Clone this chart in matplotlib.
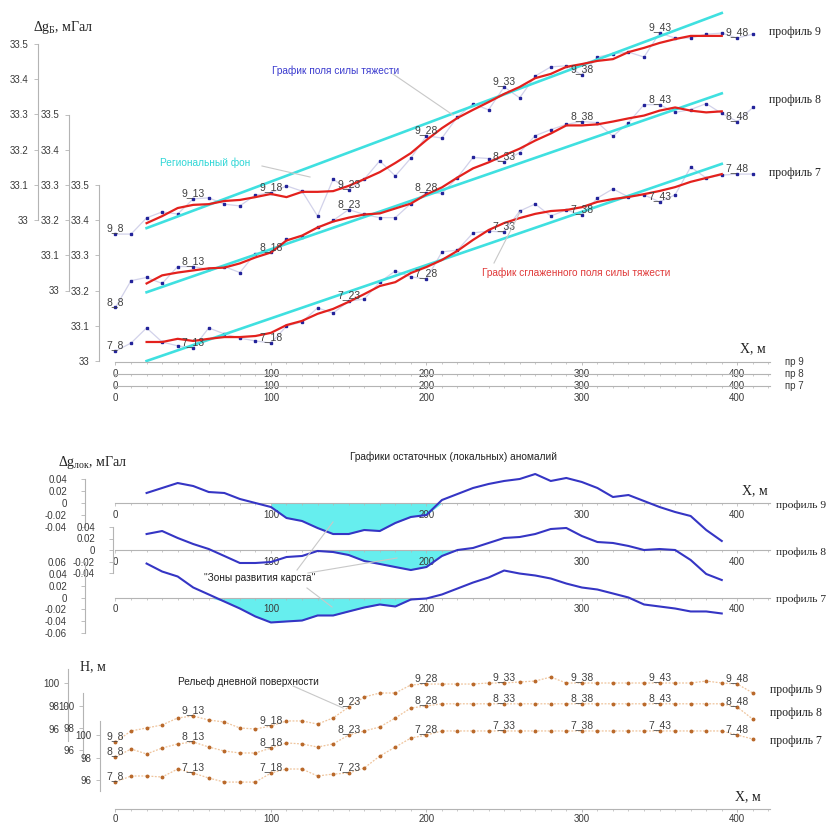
import numpy as np
import matplotlib
matplotlib.use("Agg")
import matplotlib.pyplot as plt
from matplotlib.lines import Line2D

plt.rcParams['font.family'] = ['Liberation Sans', 'DejaVu Sans']
plt.rcParams['mathtext.fontset'] = 'custom'
plt.rcParams['mathtext.rm'] = 'Liberation Serif'
plt.rcParams['mathtext.it'] = 'Liberation Serif:italic'

# ---------------- data ----------------
stations = np.arange(8, 50)                 # picket numbers 8..49
dist = (stations - 8) * 10.0                # distance along profile, m
dist_s = dist[2:40]                         # 20..390 m, smoothed / residual curves
label_stations = [8, 13, 18, 23, 28, 33, 38, 43, 48]

# observed gravity, mGal
g9 = [32.960, 32.960, 33.006, 33.023, 33.017, 33.060, 33.063, 33.045, 33.040, 33.071,
      33.077, 33.097, 33.082, 33.011, 33.116, 33.085, 33.116, 33.168, 33.125, 33.176,
      33.239, 33.233, 33.293, 33.330, 33.313, 33.378, 33.347, 33.409, 33.435, 33.438,
      33.412, 33.463, 33.472, 33.477, 33.463, 33.531, 33.517, 33.517, 33.528, 33.531,
      33.517, 33.528]
g8 = [32.952, 33.028, 33.037, 33.020, 33.068, 33.068, 33.060, 33.068, 33.051, 33.105,
      33.108, 33.145, 33.153, 33.179, 33.199, 33.230, 33.216, 33.207, 33.207, 33.247,
      33.278, 33.276, 33.321, 33.378, 33.375, 33.366, 33.392, 33.440, 33.457, 33.472,
      33.480, 33.477, 33.438, 33.477, 33.528, 33.528, 33.506, 33.514, 33.531, 33.503,
      33.480, 33.520]
g7 = [33.028, 33.051, 33.094, 33.054, 33.043, 33.037, 33.094, 33.077, 33.065, 33.057,
      33.051, 33.099, 33.111, 33.151, 33.136, 33.170, 33.176, 33.224, 33.256, 33.239,
      33.233, 33.310, 33.315, 33.364, 33.369, 33.366, 33.426, 33.446, 33.412, 33.429,
      33.415, 33.463, 33.489, 33.466, 33.472, 33.452, 33.472, 33.551, 33.520, 33.528,
      33.531, 33.531]

# smoothed gravity, mGal (20..390 m)
s9 = [32.991, 33.011, 33.034, 33.043, 33.045, 33.054, 33.057, 33.065, 33.074, 33.065,
      33.080, 33.080, 33.082, 33.097, 33.116, 33.136, 33.162, 33.190, 33.227, 33.261,
      33.290, 33.313, 33.335, 33.358, 33.378, 33.403, 33.415, 33.435, 33.443, 33.452,
      33.457, 33.477, 33.489, 33.503, 33.514, 33.523, 33.523, 33.523]
s8 = [33.020, 33.043, 33.051, 33.057, 33.063, 33.065, 33.077, 33.094, 33.108, 33.142,
      33.156, 33.179, 33.196, 33.207, 33.216, 33.219, 33.233, 33.247, 33.273, 33.293,
      33.321, 33.347, 33.364, 33.384, 33.403, 33.426, 33.446, 33.469, 33.469, 33.472,
      33.480, 33.489, 33.497, 33.511, 33.520, 33.511, 33.506, 33.509]
s7 = [33.054, 33.054, 33.063, 33.057, 33.063, 33.068, 33.068, 33.071, 33.080, 33.102,
      33.114, 33.134, 33.148, 33.168, 33.190, 33.213, 33.224, 33.250, 33.267, 33.287,
      33.313, 33.344, 33.372, 33.392, 33.406, 33.418, 33.426, 33.429, 33.437, 33.452,
      33.460, 33.466, 33.474, 33.483, 33.494, 33.509, 33.520, 33.531]

# regional background (straight line end points)
reg_x = [20, 390]
reg9 = [32.977, 33.588]
reg8 = [32.995, 33.560]
reg7 = [33.000, 33.560]

# residual (local) anomalies, mGal (20..390 m)
r9 = [0.0167, 0.025, 0.0333, 0.0283, 0.0183, 0.0167, 0.0067, 0.0, -0.0067, -0.025,
      -0.03, -0.0417, -0.0517, -0.0517, -0.045, -0.0467, -0.0333, -0.0233, -0.02, 0.005,
      0.015, 0.025, 0.0317, 0.0367, 0.04, 0.0483, 0.0367, 0.0417, 0.035, 0.025,
      0.01, 0.0133, 0.0033, -0.0067, -0.015, -0.0217, -0.045, -0.0633]
r8 = [0.0278, 0.033, 0.0209, 0.0104, 0.0017, -0.0104, -0.0226, -0.0226, -0.0209, -0.0122,
      -0.0104, -0.0017, -0.0035, -0.0087, -0.0191, -0.0243, -0.0296, -0.0348, -0.0296, -0.0104,
      0.0, 0.0035, 0.0122, 0.0209, 0.0226, 0.0278, 0.0365, 0.0383, 0.0243, 0.0139,
      0.0122, 0.007, 0.0, 0.0017, 0.0, -0.0174, -0.0417, -0.0522]
r7 = [0.0574, 0.0439, 0.0355, 0.0169, 0.0051, -0.0068, -0.0186, -0.0321, -0.0422, -0.0405,
      -0.0389, -0.0304, -0.0304, -0.0236, -0.0169, -0.0118, -0.0152, -0.0034, -0.0017, 0.0051,
      0.0152, 0.0253, 0.0338, 0.0456, 0.0405, 0.0372, 0.0321, 0.0236, 0.0169, 0.0135,
      0.0068, 0.0, -0.0118, -0.0152, -0.0186, -0.0236, -0.0236, -0.027]
# karst zones (start, end of shaded interval), m
karst9 = (100, 210)
karst8 = (130, 220)
karst7 = (60, 200)

# surface relief, m
h9 = [94.87, 95.83, 96.09, 96.35, 96.96, 97.13, 96.78, 96.61, 96.09, 96.00,
      96.26, 96.70, 96.70, 96.43, 96.96, 97.91, 98.78, 99.13, 99.13, 99.83,
      99.91, 99.91, 99.91, 99.91, 100.0, 100.0, 100.09, 100.17, 100.52, 100.0,
      100.0, 100.0, 100.0, 100.0, 100.0, 100.0, 100.0, 100.0, 100.17, 100.0,
      99.91, 99.13]
h8 = [95.36, 96.09, 95.64, 96.18, 96.55, 96.73, 96.27, 95.91, 95.73, 95.73,
      96.18, 96.64, 96.55, 96.27, 96.55, 97.36, 97.73, 98.09, 98.91, 99.82,
      100.0, 100.2, 100.2, 100.2, 100.2, 100.2, 100.2, 100.2, 100.2, 100.2,
      100.2, 100.2, 100.2, 100.2, 100.2, 100.2, 100.2, 100.2, 100.2, 100.2,
      99.9, 98.8]
h7 = [95.82, 96.36, 96.36, 96.27, 96.98, 96.62, 96.18, 95.82, 95.82, 95.82,
      96.62, 96.98, 96.98, 96.36, 96.53, 96.62, 97.07, 98.13, 98.93, 99.73,
      100.0, 100.36, 100.36, 100.36, 100.36, 100.36, 100.36, 100.36, 100.36, 100.36,
      100.36, 100.36, 100.36, 100.36, 100.36, 100.36, 100.36, 100.36, 100.36, 100.36,
      100.0, 99.64]

g_ticks = [33.0, 33.1, 33.2, 33.3, 33.4, 33.5]
g_ticklabels = ['33', '33.1', '33.2', '33.3', '33.4', '33.5']
r_ticks4 = [-0.04, -0.02, 0.0, 0.02, 0.04]
r_ticklabels4 = ['-0.04', '-0.02', '0', '0.02', '0.04']
r_ticks6 = [-0.06, -0.04, -0.02, 0.0, 0.02, 0.04, 0.06]
r_ticklabels6 = ['-0.06', '-0.04', '-0.02', '0', '0.02', '0.04', '0.06']
h_ticks = [96, 98, 100]
h_ticklabels = ['96', '98', '100']
x_ticks = [0, 100, 200, 300, 400]
x_ticklabels = ['0', '100', '200', '300', '400']

# ---------------- layout helpers ----------------
W, H = 829, 825
X0 = 115.5          # left edge of the distance scale, px
PPM = 1.5545        # px per metre
XMAX = 421.0
AXW = XMAX * PPM

fig = plt.figure(figsize=(W / 100, H / 100), dpi=100)

SERIF = ['Liberation Serif', 'DejaVu Serif']
GRAY = '#b4b4b4'
TXT = '#3a3a3a'


def px_axes(y_top, y_bot):
    ax = fig.add_axes([X0 / W, 1 - y_bot / H, AXW / W, (y_bot - y_top) / H])
    ax.set_xlim(0, XMAX)
    ax.patch.set_visible(False)
    return ax


def ftext(x, y, s, **kw):
    kw.setdefault('va', 'center')
    return fig.text(x / W, 1 - y / H, s, **kw)


def fline(x1, y1, x2, y2, color='#c8c8c8', lw=0.8):
    fig.add_artist(Line2D([x1 / W, x2 / W], [1 - y1 / H, 1 - y2 / H],
                          transform=fig.transFigure, color=color, lw=lw))


def y_axis(ax, spine_px, ticks, labels, lim, pad=4):
    ax.set_ylim(*lim)
    for s in ['top', 'right', 'bottom']:
        ax.spines[s].set_visible(False)
    ax.spines['left'].set_position(('axes', (spine_px - X0) / AXW))
    ax.spines['left'].set_color(GRAY)
    ax.spines['left'].set_linewidth(0.8)
    ax.set_yticks(ticks)
    ax.set_yticklabels(labels)
    ax.tick_params(axis='y', length=3, width=0.6, color=GRAY, labelsize=7,
                   labelcolor=TXT, pad=pad)
    ax.set_xticks([])


def x_strip(y_line, pad=2.5):
    ax = px_axes(y_line - 2, y_line)
    ax.set_ylim(0, 1)
    for s in ['top', 'right', 'left']:
        ax.spines[s].set_visible(False)
    ax.spines['bottom'].set_color(GRAY)
    ax.spines['bottom'].set_linewidth(0.8)
    ax.set_yticks([])
    ax.set_xticks(x_ticks)
    ax.set_xticklabels(x_ticklabels)
    ax.set_xticks(np.arange(0, 421, 10), minor=True)
    ax.tick_params(axis='x', which='major', length=2.5, width=0.6, color=GRAY,
                   labelsize=7, labelcolor=TXT, pad=pad)
    ax.tick_params(axis='x', which='minor', length=1.5, width=0.5, color=GRAY)
    return ax


def station_labels(ax, prof, values):
    for st in label_stations:
        i = st - 8
        ax.annotate(f'{prof}_{st}', (dist[i], values[i]), xytext=(0, 0.5),
                    textcoords='offset points', ha='center', va='bottom',
                    fontsize=7.5, color='#404040', annotation_clip=False, zorder=6)


# ---------------- top panel: gravity ----------------
top_specs = [
    (9, g9, s9, reg9, 44.0, 220.0, 38),
    (8, g8, s8, reg8, 114.5, 290.5, 69),
    (7, g7, s7, reg7, 185.0, 361.0, 99),
]
for prof, g, s, reg, yt, yb, spx in top_specs:
    ax = px_axes(yt, yb)
    y_axis(ax, spx, g_ticks, g_ticklabels, (33.0, 33.5), pad=4)
    ax.plot(dist, g, color='#d2d2ea', lw=0.9, clip_on=False, zorder=2)
    ax.plot(dist, g, ls='none', marker='s', ms=1.9, color='#23239a', clip_on=False, zorder=3)
    ax.plot(reg_x, reg, color='#3fe0e0', lw=1.9, clip_on=False, zorder=4)
    ax.plot(dist_s, s, color='#e3211d', lw=1.6, clip_on=False, zorder=5)
    station_labels(ax, prof, g)

for yl, name in [(362, 'пр 9'), (374, 'пр 8'), (386, 'пр 7')]:
    x_strip(yl, pad=2.5)
    ftext(785, yl, name, fontsize=7, color=TXT)

ftext(33, 27, 'Δg$_{\\mathrm{Б}}$, мГал', family=SERIF, fontsize=10, color='#222')
ftext(740, 349, 'X, м', family=SERIF, fontsize=10, color='#222')
for y, name in [(32, 'профиль 9'), (100, 'профиль 8'), (173, 'профиль 7')]:
    ftext(769, y, name, family=SERIF, fontsize=8.5, color='#222')

ftext(272, 71, 'График поля силы тяжести', fontsize=7.3, color='#3b3bcf')
fline(393, 74, 453, 115)
ftext(160, 163, 'Региональный фон', fontsize=7.3, color='#2fd6d6')
fline(262, 166, 310, 177)
ftext(482, 273, 'График сглаженного поля силы тяжести', fontsize=7.3, color='#e03a3a')
fline(494, 263, 520, 212)

# ---------------- middle panel: residual anomalies ----------------
mid_specs = [
    (r9, karst9, 479.0, 527.0, 85, r_ticks4, r_ticklabels4, (-0.04, 0.04)),
    (r8, karst8, 527.0, 573.0, 113, r_ticks4, r_ticklabels4, (-0.04, 0.04)),
    (r7, karst7, 562.0, 633.0, 85, r_ticks6, r_ticklabels6, (-0.06, 0.06)),
]
xs = np.asarray(dist_s)
for r, (k0, k1), yt, yb, spx, tk, tl, lim in mid_specs:
    ax = px_axes(yt, yb)
    y_axis(ax, spx, tk, tl, lim, pad=10)
    ra = np.asarray(r)
    ax.spines['bottom'].set_visible(True)
    ax.spines['bottom'].set_position(('data', 0))
    ax.spines['bottom'].set_color(GRAY)
    ax.spines['bottom'].set_linewidth(0.8)
    ax.set_xticks(x_ticks)
    ax.set_xticklabels(x_ticklabels)
    ax.set_xticks(np.arange(0, 421, 10), minor=True)
    ax.tick_params(axis='x', which='major', length=2, width=0.5, color=GRAY,
                   labelsize=7, labelcolor=TXT, pad=3)
    ax.tick_params(axis='x', which='minor', length=1.5, width=0.5, color=GRAY)
    m = (xs >= k0) & (xs <= k1)
    ax.fill_between(xs[m], np.minimum(ra[m], 0), 0, color='#66eeee', lw=0,
                    zorder=1, clip_on=False)
    ax.plot(xs, ra, color='#3535c4', lw=1.5, clip_on=False, zorder=3)

ftext(58, 462, 'Δg$_{\\mathrm{лок}}$, мГал', family=SERIF, fontsize=10, color='#222')
ftext(350, 457, 'Графики остаточных (локальных) аномалий', fontsize=7.3, color='#222')
ftext(742, 491, 'X, м', family=SERIF, fontsize=10, color='#222')
for y, name in [(505, 'профиль 9'), (552, 'профиль 8'), (599, 'профиль 7')]:
    ftext(776, y, name, family=SERIF, fontsize=8.2, color='#222')
ftext(204, 578, '"Зоны развития карста"', fontsize=7.3, color='#222')
fline(297, 570, 333, 522)
fline(308, 573, 397, 558)
fline(307, 588, 332, 607)

# ---------------- bottom panel: surface relief ----------------
bot_specs = [
    (9, h9, 669.2, 740.5, 68),
    (8, h8, 692.8, 761.0, 83),
    (7, h7, 721.5, 791.3, 100),
]
for prof, h, yt, yb, spx in bot_specs:
    ax = px_axes(yt, yb)
    y_axis(ax, spx, h_ticks, h_ticklabels, (95.0, 101.2), pad=3)
    ax.plot(dist, h, color='#efc49c', lw=0.9, ls=(0, (1.5, 1.2)), clip_on=False, zorder=2)
    ax.plot(dist, h, ls='none', marker='o', ms=1.8, color='#b9692b', clip_on=False, zorder=3)
    station_labels(ax, prof, h)

x_strip(809, pad=0.8)
ftext(80, 667, 'H, м', family=SERIF, fontsize=10, color='#222')
ftext(735, 797, 'X, м', family=SERIF, fontsize=10, color='#222')
for y, name in [(690, 'профиль 9'), (713, 'профиль 8'), (741, 'профиль 7')]:
    ftext(770, y, name, family=SERIF, fontsize=8.5, color='#222')
ftext(178, 682, 'Рельеф дневной поверхности', fontsize=7.3, color='#222')
fline(293, 686, 343, 708)

fig.savefig('out.png', dpi=100)
